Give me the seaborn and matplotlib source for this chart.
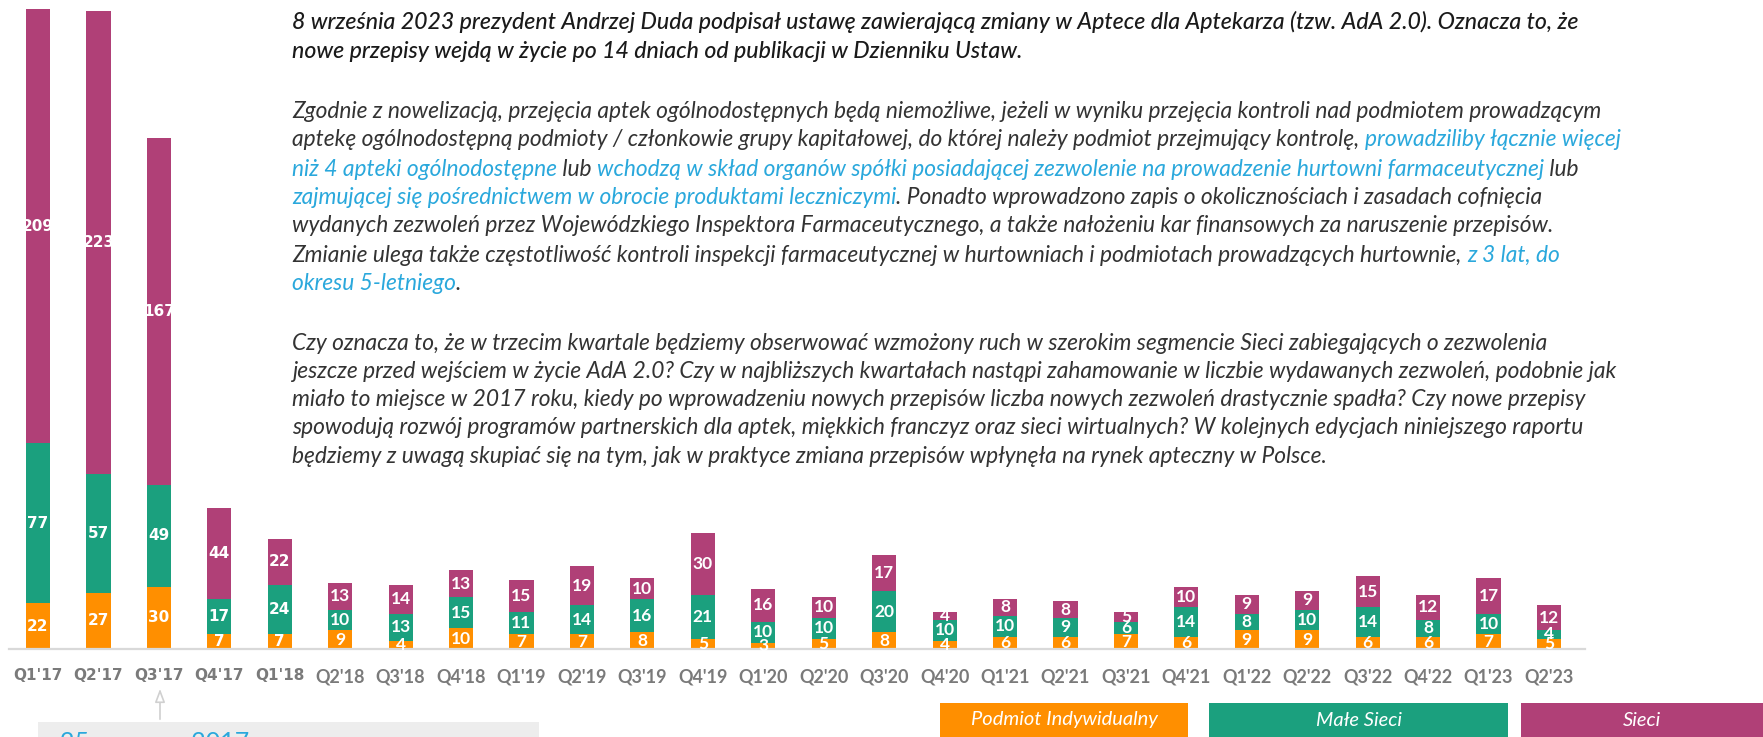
import seaborn as sns
import pandas as pd
import matplotlib.pyplot as plt
from matplotlib.patches import Rectangle

quarters = ["Q1'17", "Q2'17", "Q3'17", "Q4'17", "Q1'18", "Q2'18", "Q3'18", "Q4'18",
            "Q1'19", "Q2'19", "Q3'19", "Q4'19", "Q1'20", "Q2'20", "Q3'20", "Q4'20",
            "Q1'21", "Q2'21", "Q3'21", "Q4'21", "Q1'22", "Q2'22", "Q3'22", "Q4'22",
            "Q1'23", "Q2'23"]
podmiot = [22, 27, 30, 7, 7, 9, 4, 10, 7, 7, 8, 5, 3, 5, 8, 4, 6, 6, 7, 6, 9, 9, 6, 6, 7, 5]
male_sieci = [77, 57, 49, 17, 24, 10, 13, 15, 11, 14, 16, 21, 10, 10, 20, 10, 10, 9, 6, 14, 8, 10, 14, 8, 10, 4]
sieci = [209, 223, 167, 44, 22, 13, 14, 13, 15, 19, 10, 30, 16, 10, 17, 4, 8, 8, 5, 10, 9, 9, 15, 12, 17, 12]
series_names = ["Podmiot Indywidualny", "Małe Sieci", "Sieci"]

ORANGE, TEAL, PINK = "#ff8f00", "#1ba07e", "#b04077"
BLUE, DARK, BODY = "#2aa8dc", "#1a1a1a", "#333333"

W, H = 1763, 737
fig = plt.figure(figsize=(W / 100, H / 100), dpi=100)
# baseline sits 88 px above the bottom edge, 2.078 px per unit
ax = fig.add_axes([0, 88 / H, 1, 649 / H])

df = pd.DataFrame({"kwartal": quarters, "podmiot": podmiot, "male": male_sieci, "sieci": sieci})
df["mid"] = df["podmiot"] + df["male"]
df["top"] = df["mid"] + df["sieci"]

# stacked look: draw cumulative totals back to front
for col, color in [("top", PINK), ("mid", TEAL), ("podmiot", ORANGE)]:
    sns.barplot(data=df, x="kwartal", y=col, order=quarters, color=color,
                saturation=1, width=0.4, ax=ax)

ax.set_xlim(-38 / 60.44, (W - 38) / 60.44)
ax.set_ylim(0, 649 / 2.078)
ax.set_xlabel("")
ax.set_ylabel("")
ax.set_yticks([])
for s in ["top", "left", "right"]:
    ax.spines[s].set_visible(False)
ax.spines["bottom"].set_color("#d9d9d9")
ax.spines["bottom"].set_linewidth(1.6)
ax.spines["bottom"].set_bounds(-0.48, 25.6)

ax.set_xticks(range(len(quarters)))
ax.set_xticklabels(quarters)
ax.tick_params(axis="x", length=0, pad=14)
for i, lab in enumerate(ax.get_xticklabels()):
    lab.set_color("#7a7a7a")
    lab.set_fontweight("bold")
    if i < 5:
        lab.set_fontfamily("DejaVu Sans")
        lab.set_fontsize(11)
    else:
        lab.set_fontfamily("Lato")
        lab.set_fontsize(13)

# segment values
for i in range(len(quarters)):
    base = 0
    for v in (podmiot[i], male_sieci[i], sieci[i]):
        fam = "DejaVu Sans" if i < 5 else "Lato"
        ax.text(i, base + v / 2, str(v), ha="center", va="center", color="white",
                fontweight="bold", fontfamily=fam, fontsize=11 if i < 5 else 12.5)
        base += v


def text_line(y_px, parts, weight="normal", size=16.35):
    x = 292
    prev = fig.text(x / W, 1 - y_px / H, parts[0][0], color=parts[0][1], ha="left",
                    va="center", fontfamily="Lato", fontstyle="italic",
                    fontweight=weight, fontsize=size)
    for s, c in parts[1:]:
        prev = ax.annotate(s, xy=(1, 0), xycoords=prev, ha="left", va="bottom",
                           color=c, fontfamily="Lato", fontstyle="italic",
                           fontweight=weight, fontsize=size, annotation_clip=False)


text_line(22, [("8 września 2023 prezydent Andrzej Duda podpisał ustawę zawierającą zmiany w Aptece dla Aptekarza (tzw. AdA 2.0). Oznacza to, że", DARK)], weight="medium", size=16.7)
text_line(52, [("nowe przepisy wejdą w życie po 14 dniach od publikacji w Dzienniku Ustaw.", DARK)], weight="medium", size=16.7)

text_line(111, [("Zgodnie z nowelizacją, przejęcia aptek ogólnodostępnych będą niemożliwe, jeżeli w wyniku przejęcia kontroli nad podmiotem prowadzącym", BODY)])
text_line(140, [("aptekę ogólnodostępną podmioty / członkowie grupy kapitałowej, do której należy podmiot przejmujący kontrolę, ", BODY),
                ("prowadziliby łącznie więcej", BLUE)])
text_line(169, [("niż 4 apteki ogólnodostępne", BLUE), (" lub ", BODY),
                ("wchodzą w skład organów spółki posiadającej zezwolenie na prowadzenie hurtowni farmaceutycznej", BLUE),
                (" lub", BODY)])
text_line(197, [("zajmującej się pośrednictwem w obrocie produktami leczniczymi", BLUE),
                (". Ponadto wprowadzono zapis o okolicznościach i zasadach cofnięcia", BODY)])
text_line(226, [("wydanych zezwoleń przez Wojewódzkiego Inspektora Farmaceutycznego, a także nałożeniu kar finansowych za naruszenie przepisów.", BODY)])
text_line(255, [("Zmianie ulega także częstotliwość kontroli inspekcji farmaceutycznej w hurtowniach i podmiotach prowadzących hurtownie, ", BODY),
                ("z 3 lat, do", BLUE)])
text_line(284, [("okresu 5-letniego", BLUE), (".", BODY)])

text_line(343, [("Czy oznacza to, że w trzecim kwartale będziemy obserwować wzmożony ruch w szerokim segmencie Sieci zabiegających o zezwolenia", BODY)])
text_line(371, [("jeszcze przed wejściem w życie AdA 2.0? Czy w najbliższych kwartałach nastąpi zahamowanie w liczbie wydawanych zezwoleń, podobnie jak", BODY)])
text_line(399, [("miało to miejsce w 2017 roku, kiedy po wprowadzeniu nowych przepisów liczba nowych zezwoleń drastycznie spadła? Czy nowe przepisy", BODY)])
text_line(428, [("spowodują rozwój programów partnerskich dla aptek, miękkich franczyz oraz sieci wirtualnych? W kolejnych edycjach niniejszego raportu", BODY)])
text_line(457, [("będziemy z uwagą skupiać się na tym, jak w praktyce zmiana przepisów wpłynęła na rynek apteczny w Polsce.", BODY)])

# legend boxes along the bottom edge
for (x0, x1), name, color in zip([(940, 1188), (1209, 1508), (1521, 1763)], series_names, [ORANGE, TEAL, PINK]):
    fig.patches.append(Rectangle((x0 / W, 0), (x1 - x0) / W, 34 / H, transform=fig.transFigure,
                                 facecolor=color, edgecolor="none"))
    fig.text((x0 + x1) / 2 / W, 17 / H, name, ha="center", va="center", color="white",
             fontfamily="Lato", fontstyle="italic", fontweight="normal", fontsize=14.5)

# note box, cut by the bottom edge, with arrow pointing to Q3'17
fig.patches.append(Rectangle((38 / W, 0), (539 - 38) / W, 15 / H, transform=fig.transFigure,
                             facecolor="#ededed", edgecolor="none"))
note = fig.text(60 / W, -13 / H, "25 czerwca 2017", ha="left", va="baseline", color=BLUE,
                fontfamily="Lato", fontweight="normal", fontsize=18)
ax.annotate(" weszła w życie", xy=(1, 0), xycoords=note, ha="left", va="bottom", color=BODY,
            fontfamily="Lato", fontweight="normal", fontsize=18, annotation_clip=False)
ax.annotate("", xy=(160 / W, 1 - 686 / H), xytext=(160 / W, 1 - 722 / H),
            xycoords="figure fraction", textcoords="figure fraction",
            arrowprops=dict(arrowstyle="-|>,head_length=0.8,head_width=0.3", fc="white",
                            ec="#d0d0d0", lw=1.2))

fig.savefig("out.png", dpi=100)
